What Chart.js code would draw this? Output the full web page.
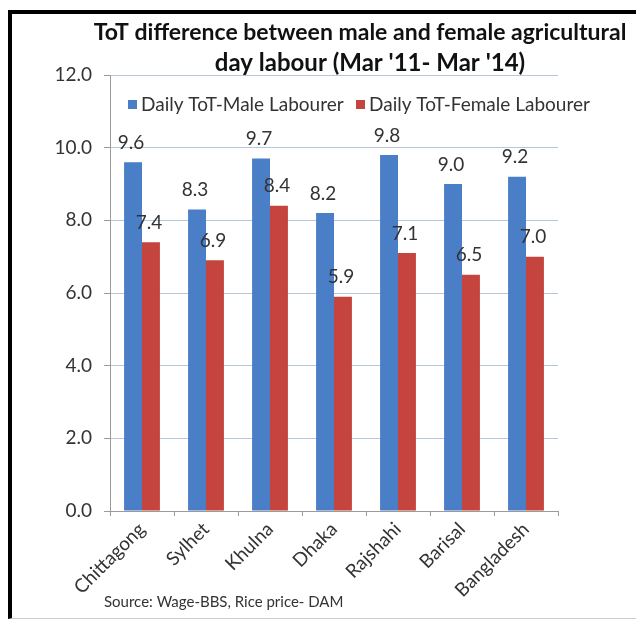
<!DOCTYPE html>
<html>
<head>
<meta charset="utf-8">
<script src="https://cdn.jsdelivr.net/npm/chart.js@4.4.1/dist/chart.umd.min.js"></script>
<style>
  html, body { margin: 0; padding: 0; background: #fff; }
  #wrap { position: relative; width: 636px; height: 619px; overflow: hidden; }
  #frame {
    position: absolute; left: 8px; top: 10px; width: 660px; height: 604px;
    border-left: 4px solid #000; border-top: 4px solid #000; border-bottom: 1px solid #ccc;
  }
  #c { position: absolute; left: 0; top: 0; }
</style>
</head>
<body>
<div id="wrap">
  <div id="frame"></div>
  <canvas id="c" width="636" height="619"></canvas>
</div>
<script>
// data
const regions = ['Chittagong', 'Sylhet', 'Khulna', 'Dhaka', 'Rajshahi', 'Barisal', 'Bangladesh'];
const maleTot = [9.6, 8.3, 9.7, 8.2, 9.8, 9.0, 9.2];
const femaleTot = [7.4, 6.9, 8.4, 5.9, 7.1, 6.5, 7.0];
const seriesNames = ['Daily ToT-Male Labourer', 'Daily ToT-Female Labourer'];
const titleLines = ['ToT difference between male and female agricultural', "day labour (Mar '11- Mar '14)"];
const sourceNote = 'Source: Wage-BBS, Rice price- DAM';

const textColor = '#333';
const fontFam = 'Lato, "Open Sans", sans-serif';

// title, legend, value labels and the source line
const decorPlugin = {
    id: 'decor',
    afterDraw(chart) {
        const ctx = chart.ctx;
        ctx.save();
        ctx.fillStyle = '#111';
        ctx.textAlign = 'center';
        ctx.textBaseline = 'middle';
        ctx.font = 'bold 23px ' + fontFam;
        ctx.fillText(titleLines[0], 360, 33);
        ctx.font = 'bold 24px ' + fontFam;
        ctx.fillText(titleLines[1], 370, 63);

        // legend
        ctx.font = '19px ' + fontFam;
        ctx.textAlign = 'left';
        let x = 128;
        chart.data.datasets.forEach((ds, i) => {
            ctx.fillStyle = ds.backgroundColor;
            ctx.fillRect(x, 100, 9, 9);
            ctx.fillStyle = textColor;
            ctx.fillText(ds.label, x + 13, 105);
            x = (i === 0) ? 356 : x;
        });

        // value labels above bars
        ctx.font = '19px ' + fontFam;
        ctx.textAlign = 'center';
        ctx.textBaseline = 'bottom';
        ctx.fillStyle = textColor;
        chart.data.datasets.forEach((ds, i) => {
            chart.getDatasetMeta(i).data.forEach((bar, j) => {
                ctx.fillText(ds.data[j].toFixed(1), bar.x - 2, bar.y - 10);
            });
        });

        // source
        ctx.font = '15px ' + fontFam;
        ctx.textAlign = 'left';
        ctx.textBaseline = 'middle';
        ctx.fillText(sourceNote, 104, 602);
        ctx.restore();
    }
};

const ctx = document.getElementById('c').getContext('2d');
const chart = new Chart(ctx, {
    type: 'bar',
    data: {
        labels: regions,
        datasets: [{
            label: seriesNames[0],
            data: maleTot,
            backgroundColor: '#4A7EC6'
        }, {
            label: seriesNames[1],
            data: femaleTot,
            backgroundColor: '#C5453E'
        }]
    },
    options: {
        responsive: false,
        animation: false,
        devicePixelRatio: 1,
        categoryPercentage: 0.56,
        barPercentage: 1.0,
        layout: { padding: { top: 75, right: 78, bottom: 0, left: 0 } },
        scales: {
            x: {
                grid: {
                    display: true, drawOnChartArea: false, offset: true,
                    tickLength: 5, color: '#9a9a9a'
                },
                border: { color: '#9a9a9a' },
                ticks: {
                    autoSkip: false, maxRotation: 45, minRotation: 45,
                    color: textColor, font: { family: fontFam, size: 19 }, padding: 2
                },
                afterFit(scale) { scale.height = 108; }
            },
            y: {
                min: 0, max: 12,
                ticks: {
                    stepSize: 2, color: textColor, padding: 12,
                    font: { family: fontFam, size: 19 },
                    callback: v => v.toFixed(1)
                },
                grid: { color: '#b7c6db', tickColor: '#9a9a9a', tickLength: 6 },
                border: { color: '#9a9a9a' },
                afterFit(scale) { scale.width = 110; }
            }
        },
        plugins: {
            legend: { display: false },
            title: { display: false },
            tooltip: { enabled: false }
        }
    },
    plugins: [decorPlugin]
});
</script>
</body>
</html>
